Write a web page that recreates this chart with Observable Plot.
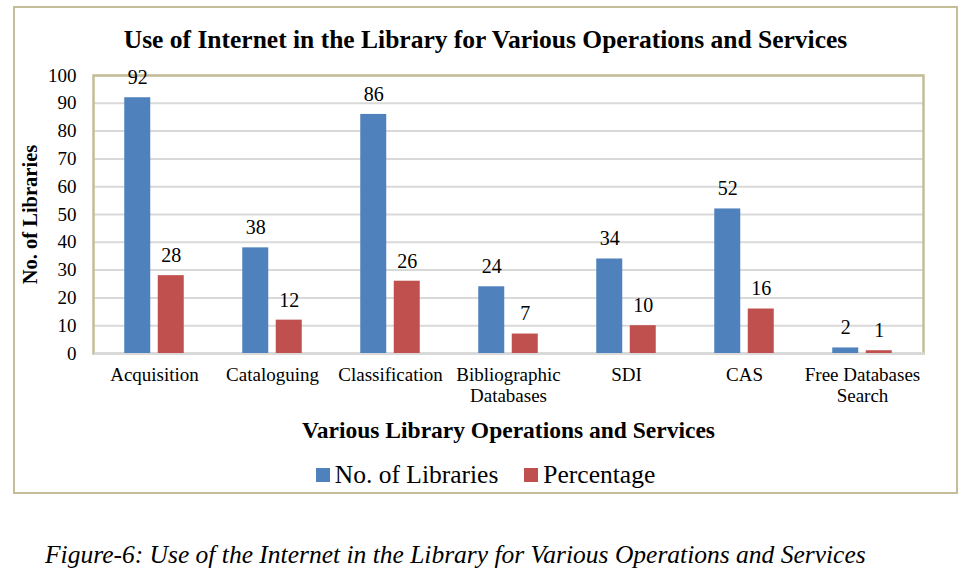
<!DOCTYPE html>
<html>
<head>
<meta charset="utf-8">
<script src="https://cdn.jsdelivr.net/npm/d3@7"></script>
<script src="https://cdn.jsdelivr.net/npm/@observablehq/plot@0.6"></script>
<style>
  html, body { margin: 0; padding: 0; background: #fff; }
  #page { position: relative; width: 968px; height: 582px; overflow: hidden; font-family: "Liberation Serif", "Times New Roman", serif; color: #000; }
  #box { position: absolute; left: 13px; top: 6px; width: 945px; height: 488px; box-sizing: border-box; border: 2.5px solid #C4BD97; }
  #title { position: absolute; left: 13px; width: 945px; top: 25px; text-align: center; font-weight: bold; font-size: 25.5px; line-height: 30px; }
  #chart { position: absolute; left: 0; top: 60px; }
  #legend { position: absolute; left: 13px; width: 945px; top: 460px; display: flex; justify-content: center; align-items: center; font-size: 25.5px; line-height: 30px; }
  #legend .item { display: flex; align-items: center; margin: 0 13px; }
  #legend .sw { width: 14px; height: 14px; margin-right: 5px; }
  #caption { position: absolute; left: 45px; top: 540px; font-style: italic; font-size: 25.5px; line-height: 30px; }
  g[aria-label="y-axis label"] text { font-weight: bold; font-size: 20.5px; }
  g[aria-label="x-axis label"] text { font-weight: bold; font-size: 23.5px; }
</style>
</head>
<body>
<div id="page">
  <div id="box"></div>
  <div id="title">Use of Internet in the Library for Various Operations and Services</div>
  <div id="chart"></div>
  <div id="legend"></div>
  <div id="caption">Figure-6: Use of the Internet in the Library for Various Operations and Services</div>
</div>
<script>
const categories = ["Acquisition", "Cataloguing", "Classification", "Bibliographic\nDatabases", "SDI", "CAS", "Free Databases\nSearch"];
const libraries = [92, 38, 86, 24, 34, 52, 2];
const percentage = [28, 12, 26, 7, 10, 16, 1];
const seriesNames = ["No. of Libraries", "Percentage"];
const seriesColors = ["#4F81BD", "#C0504D"];
const yTicks = [0, 10, 20, 30, 40, 50, 60, 70, 80, 90, 100];

const libData = categories.map((c, i) => ({category: c, value: libraries[i]}));
const pctData = categories.map((c, i) => ({category: c, value: percentage[i]}));

const barInset = 46;
const barShift = 16.75;

const chart = Plot.plot({
  width: 968,
  height: 385,
  marginLeft: 93,
  marginRight: 45,
  marginTop: 15,
  marginBottom: 92,
  style: {fontFamily: "Liberation Serif, Times New Roman, serif", fontSize: "19px", color: "#000", background: "transparent", overflow: "visible"},
  x: {domain: categories, padding: 0},
  y: {domain: [0, 100]},
  marks: [
    Plot.gridY(yTicks.filter(d => d > 0), {stroke: "#D9D9D9", strokeOpacity: 1, strokeWidth: 2}),
    Plot.frame({stroke: "#C4BD97", strokeWidth: 2.5}),
    Plot.ruleY([0], {stroke: "#D9D9D9", strokeWidth: 3, dx: 1}),
    Plot.barY(libData, {x: "category", y: "value", fill: seriesColors[0], insetLeft: barInset, insetRight: barInset, dx: -barShift}),
    Plot.barY(pctData, {x: "category", y: "value", fill: seriesColors[1], insetLeft: barInset, insetRight: barInset, dx: barShift}),
    Plot.text(libData, {x: "category", y: "value", text: d => String(d.value), dx: -barShift, dy: -20, fontSize: 20}),
    Plot.text(pctData, {x: "category", y: "value", text: d => String(d.value), dx: barShift, dy: -20, fontSize: 20}),
    Plot.axisY({ticks: yTicks, tickSize: 0, tickPadding: 17, label: "No. of Libraries", labelAnchor: "center", labelOffset: 71, labelArrow: "none"}),
    Plot.axisX({tickSize: 0, tickPadding: 12, lineHeight: 1.12, label: "Various Library Operations and Services", labelAnchor: "center", labelOffset: 84, labelArrow: "none"})
  ]
});
document.getElementById("chart").appendChild(chart);

const legend = document.getElementById("legend");
seriesNames.forEach((name, i) => {
  const item = document.createElement("div");
  item.className = "item";
  const sw = document.createElement("span");
  sw.className = "sw";
  sw.style.background = seriesColors[i];
  const label = document.createElement("span");
  label.textContent = name;
  item.appendChild(sw);
  item.appendChild(label);
  legend.appendChild(item);
});
</script>
</body>
</html>
